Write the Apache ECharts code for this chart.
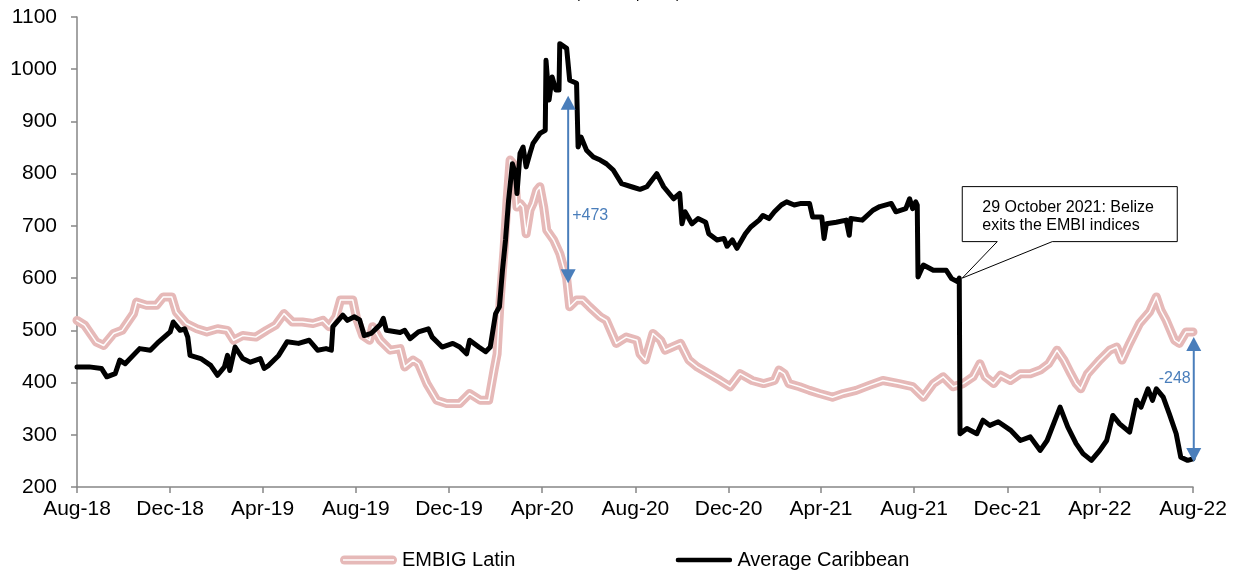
<!DOCTYPE html>
<html>
<head>
<meta charset="utf-8">
<script src="https://cdn.jsdelivr.net/npm/echarts@6/dist/echarts.min.js"></script>
<style>
  html, body { margin: 0; padding: 0; background: #fff; }
  #chart { width: 1234px; height: 571px; }
</style>
</head>
<body>
<div id="chart"></div>
<script>
// Sovereign spreads, basis points
const caribDates = [
  '2018-08-01','2018-08-17','2018-09-02','2018-09-09','2018-09-20','2018-09-26','2018-10-03','2018-10-22',
  '2018-11-05','2018-11-16','2018-12-01','2018-12-05','2018-12-14','2018-12-20','2018-12-24','2018-12-27',
  '2019-01-10','2019-01-23','2019-02-01','2019-02-10','2019-02-14','2019-02-17','2019-02-24','2019-03-06',
  '2019-03-16','2019-03-29','2019-04-03','2019-04-09','2019-04-22','2019-05-03','2019-05-18','2019-06-01',
  '2019-06-12','2019-06-23','2019-06-30','2019-07-02','2019-07-15','2019-07-21','2019-07-30','2019-08-06',
  '2019-08-12','2019-08-21','2019-09-02','2019-09-06','2019-09-10','2019-09-28','2019-10-04','2019-10-11',
  '2019-10-22','2019-11-04','2019-11-09','2019-11-22','2019-12-06','2019-12-15','2019-12-24','2019-12-28',
  '2020-01-09','2020-01-18','2020-01-24','2020-01-31','2020-02-05','2020-02-09','2020-02-13','2020-02-17',
  '2020-02-22','2020-02-26','2020-02-28','2020-03-03','2020-03-07','2020-03-11','2020-03-16','2020-03-20',
  '2020-03-29','2020-04-05','2020-04-06','2020-04-10','2020-04-14','2020-04-19','2020-04-23','2020-04-24',
  '2020-05-03','2020-05-07','2020-05-16','2020-05-18','2020-05-22','2020-05-29','2020-06-07','2020-06-16',
  '2020-06-24','2020-07-03','2020-07-14','2020-07-29','2020-08-07','2020-08-16','2020-08-29','2020-09-07',
  '2020-09-20','2020-09-28','2020-10-01','2020-10-05','2020-10-14','2020-10-22','2020-11-01','2020-11-05',
  '2020-11-16','2020-11-25','2020-11-29','2020-12-06','2020-12-12','2020-12-23','2020-12-30','2021-01-10',
  '2021-01-15','2021-01-23','2021-01-30','2021-02-08','2021-02-15','2021-02-25','2021-03-06','2021-03-17',
  '2021-03-21','2021-04-02','2021-04-05','2021-04-08','2021-04-21','2021-05-04','2021-05-08','2021-05-10',
  '2021-05-25','2021-06-08','2021-06-17','2021-07-02','2021-07-08','2021-07-21','2021-07-26','2021-07-30',
  '2021-08-03','2021-08-05','2021-08-06','2021-08-13','2021-08-26','2021-09-12','2021-09-19','2021-09-27',
  '2021-09-29','2021-09-30','2021-10-09','2021-10-22','2021-10-30','2021-11-08','2021-11-19','2021-12-05',
  '2021-12-18','2021-12-31','2022-01-13','2022-01-22','2022-02-08','2022-02-18','2022-03-01','2022-03-10',
  '2022-03-21','2022-04-01','2022-04-10','2022-04-18','2022-04-27','2022-05-10','2022-05-19','2022-05-25',
  '2022-06-03','2022-06-09','2022-06-14','2022-06-23','2022-07-01','2022-07-10','2022-07-16','2022-07-25',
  '2022-08-01'
];
const caribValues = [
  430,430,427,411,417,443,436,465,
  462,478,497,516,500,503,487,452,
  446,433,414,430,452,423,468,446,
  439,446,427,433,452,478,475,481,
  462,465,462,507,529,519,526,520,
  490,494,511,523,500,496,500,484,
  497,503,487,468,475,468,455,481,
  468,459,468,532,545,615,673,749,
  819,800,762,839,851,813,839,858,
  877,883,1017,941,985,960,960,1049,
  1040,979,973,851,870,845,832,826,
  819,807,781,774,770,775,800,775,
  752,762,704,727,704,714,707,685,
  673,676,661,673,657,685,698,711,
  720,714,727,740,746,740,743,743,
  717,717,676,704,707,711,682,714,
  711,730,737,743,727,733,752,733,
  746,740,602,625,615,615,599,593,
  600,302,312,302,328,318,325,309,
  289,296,270,289,353,315,283,264,
  251,270,289,337,321,305,366,353,
  388,366,388,372,340,302,257,251,
  254
];

const latinDates = [
  '2018-08-01','2018-08-11','2018-08-26','2018-09-05','2018-09-18','2018-09-29','2018-10-14','2018-10-18',
  '2018-10-31','2018-11-13','2018-11-22','2018-12-03','2018-12-09','2018-12-22','2019-01-05','2019-01-18',
  '2019-02-01','2019-02-14','2019-02-22','2019-03-06','2019-03-23','2019-04-06','2019-04-18','2019-04-29',
  '2019-05-10','2019-05-23','2019-06-06','2019-06-19','2019-06-27','2019-07-06','2019-07-12','2019-07-28',
  '2019-08-02','2019-08-10','2019-08-19','2019-08-23','2019-09-02','2019-09-15','2019-09-28','2019-10-04',
  '2019-10-15','2019-10-22','2019-11-02','2019-11-15','2019-11-28','2019-12-15','2019-12-28','2020-01-11',
  '2020-01-22','2020-01-29','2020-02-02','2020-02-06','2020-02-11','2020-02-15','2020-02-19','2020-02-23',
  '2020-02-26','2020-02-28','2020-03-03','2020-03-07','2020-03-11','2020-03-16','2020-03-20','2020-03-25',
  '2020-03-29','2020-04-03','2020-04-07','2020-04-16','2020-04-24','2020-05-03','2020-05-07','2020-05-16',
  '2020-05-24','2020-06-02','2020-06-16','2020-06-24','2020-07-07','2020-07-20','2020-08-03','2020-08-07',
  '2020-08-14','2020-08-24','2020-09-03','2020-09-09','2020-09-18','2020-09-29','2020-10-10','2020-10-21',
  '2020-11-05','2020-11-20','2020-12-03','2020-12-16','2021-01-01','2021-01-16','2021-01-30','2021-02-05',
  '2021-02-12','2021-02-18','2021-03-04','2021-03-17','2021-03-30','2021-04-16','2021-04-30','2021-05-17',
  '2021-06-04','2021-06-21','2021-07-12','2021-07-30','2021-08-13','2021-08-26','2021-09-08','2021-09-21',
  '2021-10-04','2021-10-17','2021-10-26','2021-11-02','2021-11-13','2021-11-22','2021-12-05','2021-12-18',
  '2021-12-31','2022-01-13','2022-01-24','2022-02-04','2022-02-13','2022-02-22','2022-03-01','2022-03-07',
  '2022-03-16','2022-04-01','2022-04-14','2022-04-23','2022-04-30','2022-05-10','2022-05-23','2022-06-05',
  '2022-06-14','2022-06-20','2022-06-27','2022-07-08','2022-07-14','2022-07-23','2022-08-01'
];
const latinValues = [
  519,510,478,471,494,500,532,554,
  548,548,564,564,535,513,503,497,
  503,500,481,490,487,500,510,532,
  516,516,513,519,507,526,558,558,
  523,490,481,507,481,462,465,430,
  443,436,398,366,360,360,379,366,
  366,424,455,558,653,749,826,819,
  775,736,743,736,685,730,743,768,
  775,736,692,673,647,600,545,558,
  558,545,526,519,475,487,481,455,
  443,494,481,462,468,475,443,430,
  417,404,392,417,404,398,404,424,
  417,398,392,385,379,372,379,385,
  395,404,398,392,372,398,411,392,
  398,411,436,411,398,414,404,417,
  417,424,436,462,443,417,398,388,
  417,443,462,468,443,475,513,535,
  564,538,519,481,475,497,497
];

// Axis ticks every four months
const tickDates = [
  '2018-08-01','2018-12-01','2019-04-01','2019-08-01','2019-12-01','2020-04-01','2020-08-01',
  '2020-12-01','2021-04-01','2021-08-01','2021-12-01','2022-04-01','2022-08-01'
];
const monthNames = ['Jan','Feb','Mar','Apr','May','Jun','Jul','Aug','Sep','Oct','Nov','Dec'];

// Spread arrows and callout
const spreadArrows = [
  { date: '2020-05-05', top: 949, bottom: 590, text: '+473', textAt: 719, side: 'right' },
  { date: '2022-08-02', top: 487, bottom: 248, text: '-248', textAt: 408, side: 'left' }
];
const belizeDate = '2021-09-29';
const belizeNote = '29 October 2021: Belize\nexits the EMBI indices';
const chartTitle = '(In basis points)';

const PINK = '#e6b9b8';
const BLUE = '#4a7ebb';
const AXIS = '#868686';
const FONT = 'Liberation Sans, Arial, sans-serif';

function ts(s) {
  const [y, m, d] = s.split('-').map(Number);
  return new Date(y, m - 1, d).getTime();
}
function zip(dates, values) {
  return dates.map((d, i) => [ts(d), values[i]]);
}
function fmtMonth(v) {
  const d = new Date(v);
  return monthNames[d.getMonth()] + '-' + String(d.getFullYear()).slice(2);
}

const pinkIcon = 'image://data:image/svg+xml;utf8,' + encodeURIComponent(
  '<svg xmlns="http://www.w3.org/2000/svg" width="57" height="10">' +
  '<line x1="4.5" y1="5" x2="52.5" y2="5" stroke="' + PINK + '" stroke-width="9" stroke-linecap="round"/>' +
  '<line x1="3" y1="5" x2="54" y2="5" stroke="#ffffff" stroke-width="1.6"/></svg>');
const blackIcon = 'image://data:image/svg+xml;utf8,' + encodeURIComponent(
  '<svg xmlns="http://www.w3.org/2000/svg" width="57" height="10">' +
  '<line x1="2.5" y1="5" x2="54.5" y2="5" stroke="#000000" stroke-width="4.5" stroke-linecap="round"/></svg>');

const chart = echarts.init(document.getElementById('chart'), null, { renderer: 'canvas' });

const tickVals = tickDates.map(ts);

chart.setOption({
  animation: false,
  backgroundColor: '#fff',
  grid: { left: 77, right: 41, top: 17, bottom: 84 },
  legend: {
    left: 335,
    top: 545,
    itemWidth: 57,
    itemHeight: 10,
    itemGap: 160,
    textStyle: { fontSize: 20, fontFamily: FONT, color: '#000' },
    data: [
      { name: 'EMBIG Latin', icon: pinkIcon },
      { name: 'Average Caribbean', icon: blackIcon }
    ]
  },
  xAxis: {
    type: 'value',
    min: tickVals[0],
    max: tickVals[tickVals.length - 1],
    axisLine: { show: true, onZero: false, lineStyle: { color: AXIS, width: 1.5 } },
    axisTick: { show: true, length: 6, lineStyle: { color: AXIS, width: 1.5 },
                customValues: tickVals },
    axisLabel: { fontSize: 21, margin: 12, fontFamily: FONT, color: '#000',
                 customValues: tickVals, formatter: fmtMonth },
    splitLine: { show: false }
  },
  yAxis: {
    type: 'value',
    min: 200, max: 1100, interval: 100,
    axisLine: { show: true, lineStyle: { color: AXIS, width: 1.5 } },
    axisTick: { show: true, length: 6, lineStyle: { color: AXIS, width: 1.5 } },
    axisLabel: { fontSize: 21, margin: 20, fontFamily: FONT, color: '#000',
                 formatter: v => String(v) },
    splitLine: { show: false }
  },
  series: [
    {
      name: 'EMBIG Latin', type: 'line', symbol: 'none', z: 2,
      data: zip(latinDates, latinValues),
      lineStyle: { color: PINK, width: 9, join: 'round', cap: 'round' },
      itemStyle: { color: PINK }
    },
    {
      name: 'EMBIG Latin inner', type: 'line', symbol: 'none', z: 3, silent: true,
      data: zip(latinDates, latinValues),
      lineStyle: { color: '#ffffff', width: 1.5, join: 'round', cap: 'round' }
    },
    {
      name: 'Average Caribbean', type: 'line', symbol: 'none', z: 4,
      data: zip(caribDates, caribValues),
      lineStyle: { color: '#000', width: 5, join: 'round', cap: 'round' },
      itemStyle: { color: '#000' }
    }
  ]
});

// Annotations placed through the chart's own coordinate system
function px(date, value) {
  return chart.convertToPixel({ gridIndex: 0 }, [ts(date), value]);
}

const graphics = [];
const headW = 7.5, headH = 14;
spreadArrows.forEach(a => {
  const t = px(a.date, a.top);
  const b = px(a.date, a.bottom);
  const x = t[0];
  graphics.push({ type: 'line', z: 10,
    shape: { x1: x, y1: t[1] + headH - 1, x2: x, y2: b[1] - headH + 1 },
    style: { stroke: BLUE, lineWidth: 2 } });
  graphics.push({ type: 'polygon', z: 10,
    shape: { points: [[x, t[1]], [x - headW, t[1] + headH], [x + headW, t[1] + headH]] },
    style: { fill: BLUE } });
  graphics.push({ type: 'polygon', z: 10,
    shape: { points: [[x, b[1]], [x - headW, b[1] - headH], [x + headW, b[1] - headH]] },
    style: { fill: BLUE } });
  const l = px(a.date, a.textAt);
  graphics.push({ type: 'text', z: 10,
    x: a.side === 'right' ? x + 4 : x - 3, y: l[1],
    style: { text: a.text, fill: BLUE, fontSize: 16, fontFamily: FONT,
             align: a.side === 'right' ? 'left' : 'right', verticalAlign: 'middle' } });
});

// Callout pointing at the last level before Belize leaves the index
const anchorVal = caribValues[caribDates.indexOf(belizeDate)];
const p = px(belizeDate, anchorVal);
const bx = p[0] + 3, by = p[1] - 91.5, bw = 215, bh = 55;
graphics.push({ type: 'polygon', z: 11,
  shape: { points: [[bx, by], [bx + bw, by], [bx + bw, by + bh], [bx + 90, by + bh],
                    [p[0] + 3, p[1]], [bx + 35, by + bh], [bx, by + bh]] },
  style: { fill: '#fff', stroke: '#000', lineWidth: 1 } });
graphics.push({ type: 'text', z: 12, x: bx + 20, y: by + 12,
  style: { text: belizeNote, fill: '#000', fontSize: 16, lineHeight: 18,
           fontFamily: FONT, align: 'left', verticalAlign: 'top' } });

// Title sits above the plot
graphics.push({ type: 'text', z: 12, x: 628, y: -14,
  style: { text: chartTitle, fill: '#000', fontSize: 15,
           fontFamily: FONT, align: 'center', verticalAlign: 'top' } });

chart.setOption({ graphic: graphics });
</script>
</body>
</html>
